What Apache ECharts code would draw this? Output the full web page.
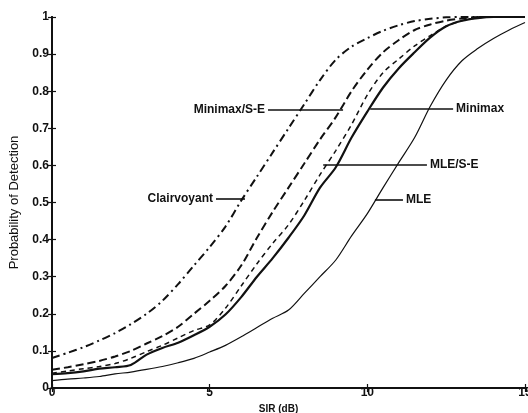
<!DOCTYPE html>
<html style="height: 100%">
<head>
  <meta charset="utf-8">
  <title>Probability of Detection vs SIR</title>
  <script src="https://cdn.jsdelivr.net/npm/echarts@6.0.0/dist/echarts.min.js"></script>
</head>
<body style="margin:0;height:100%;background:#fff">
  <div id="main" style="width:528px;height:413px"></div>
  <script>
    // SIR (dB) -> probability of detection
    var clairvoyant = [
      [0, 0.081], [0.5, 0.095], [1, 0.11], [1.5, 0.128], [2, 0.148], [2.5, 0.172],
      [3, 0.2], [3.5, 0.235], [4, 0.28], [4.5, 0.33], [5, 0.38], [5.5, 0.435],
      [6, 0.505], [6.5, 0.57], [7, 0.635], [7.5, 0.7], [8, 0.765], [8.5, 0.83],
      [9, 0.885], [9.5, 0.92], [10, 0.943], [10.5, 0.963], [11, 0.978], [11.5, 0.989],
      [12, 0.995], [12.5, 0.999], [13, 1], [15, 1]
    ];
    var minimaxSE = [
      [0, 0.049], [0.5, 0.056], [1, 0.064], [1.5, 0.073], [2, 0.085], [2.5, 0.1],
      [3, 0.12], [3.5, 0.14], [4, 0.165], [4.5, 0.2], [5, 0.235], [5.5, 0.275],
      [6, 0.33], [6.5, 0.405], [7, 0.475], [7.5, 0.54], [8, 0.605], [8.5, 0.67],
      [9, 0.73], [9.5, 0.8], [10, 0.858], [10.5, 0.905], [11, 0.938], [11.5, 0.965],
      [12, 0.98], [12.5, 0.99], [13, 0.996], [13.5, 1], [15, 1]
    ];
    var mleSE = [
      [0, 0.04], [0.5, 0.046], [1, 0.052], [1.5, 0.058], [2, 0.066], [2.5, 0.08],
      [3, 0.098], [3.5, 0.115], [4, 0.135], [4.5, 0.155], [5, 0.17], [5.5, 0.215],
      [6, 0.275], [6.5, 0.335], [7, 0.39], [7.5, 0.44], [8, 0.505], [8.5, 0.575],
      [9, 0.64], [9.5, 0.71], [10, 0.79], [10.5, 0.85], [11, 0.887], [11.5, 0.922],
      [12, 0.95], [12.5, 0.975], [13, 0.99], [13.5, 0.998], [14, 1], [15, 1]
    ];
    var minimax = [
      [0, 0.037], [0.5, 0.04], [1, 0.045], [1.5, 0.052], [2, 0.056], [2.5, 0.062],
      [3, 0.09], [3.5, 0.108], [4, 0.122], [4.5, 0.142], [5, 0.165], [5.5, 0.198],
      [6, 0.245], [6.5, 0.3], [7, 0.35], [7.5, 0.405], [8, 0.465], [8.5, 0.54],
      [9, 0.595], [9.5, 0.675], [10, 0.745], [10.5, 0.81], [11, 0.862], [11.5, 0.905],
      [12, 0.945], [12.5, 0.975], [13, 0.99], [13.5, 0.997], [14, 1], [15, 1]
    ];
    var mle = [
      [0, 0.02], [0.5, 0.024], [1, 0.027], [1.5, 0.031], [2, 0.038], [2.5, 0.043],
      [3, 0.05], [3.5, 0.058], [4, 0.068], [4.5, 0.08], [5, 0.097], [5.5, 0.115],
      [6, 0.138], [6.5, 0.163], [7, 0.188], [7.5, 0.21], [8, 0.255], [8.5, 0.3],
      [9, 0.345], [9.5, 0.41], [10, 0.47], [10.5, 0.54], [11, 0.608], [11.5, 0.675],
      [12, 0.76], [12.5, 0.83], [13, 0.882], [13.5, 0.915], [14, 0.942], [14.5, 0.965],
      [15, 0.985]
    ];

    // curve labels with leader lines (data coords: y, x from, x to, text side)
    var labels = [
      { text: 'Clairvoyant', y: 0.509, x1: 5.2, x2: 6.12, side: 'start' },
      { text: 'Minimax/S-E', y: 0.749, x1: 6.85, x2: 9.23, side: 'start' },
      { text: 'Minimax', y: 0.752, x1: 10.09, x2: 12.72, side: 'end' },
      { text: 'MLE/S-E', y: 0.601, x1: 8.6, x2: 11.89, side: 'end' },
      { text: 'MLE', y: 0.507, x1: 10.24, x2: 11.13, side: 'end' }
    ];

    var ink = '#111';
    var font = 'Liberation Sans, Arial, sans-serif';

    function leader(l) {
      return {
        silent: true,
        animation: false,
        symbol: 'none',
        lineStyle: { color: ink, width: 1.6, type: 'solid' },
        label: {
          show: true,
          position: l.side,
          distance: 3,
          formatter: l.text,
          color: ink,
          fontFamily: font,
          fontWeight: 'bold',
          fontSize: 12
        },
        data: [[{ coord: [l.x1, l.y] }, { coord: [l.x2, l.y] }]]
      };
    }

    function curve(name, data, width, dash, idx) {
      return {
        name: name,
        type: 'line',
        data: data,
        showSymbol: false,
        smooth: 0.3,
        animation: false,
        lineStyle: { color: ink, width: width, type: dash },
        markLine: leader(labels[idx])
      };
    }

    var frameAxis = {
      axisLine: { lineStyle: { color: ink, width: 2 } },
      axisTick: { inside: true, length: 4, lineStyle: { color: ink, width: 1.2 } },
      axisLabel: { show: false },
      splitLine: { show: false }
    };

    var chart = echarts.init(document.getElementById('main'));
    chart.setOption({
      grid: { left: 52, right: 3, top: 17, bottom: 25, outerBoundsMode: 'none' },
      xAxis: [
        Object.assign({
          type: 'value', min: 0, max: 15, interval: 5, position: 'bottom',
          name: 'SIR (dB)', nameLocation: 'middle', nameGap: 11,
          nameTextStyle: { color: ink, fontFamily: font, fontWeight: 'bold', fontSize: 10, padding: [0, 20, 0, 0] }
        }, frameAxis, {
          axisLabel: { show: true, margin: -1, color: ink, fontFamily: font, fontWeight: 'bold', fontSize: 12, showMaxLabel: true }
        }),
        Object.assign({ type: 'value', min: 0, max: 15, interval: 5, position: 'top' }, frameAxis)
      ],
      yAxis: [
        Object.assign({
          type: 'value', min: 0, max: 1, interval: 0.1, position: 'left',
          name: 'Probability of Detection', nameLocation: 'middle', nameGap: 25,
          nameTextStyle: { color: ink, fontFamily: font, fontSize: 13 }
        }, frameAxis, {
          axisLabel: { show: true, margin: 3, color: ink, fontFamily: font, fontWeight: 'bold', fontSize: 12 }
        }),
        Object.assign({ type: 'value', min: 0, max: 1, interval: 0.1, position: 'right' }, frameAxis)
      ],
      series: [
        curve('Clairvoyant', clairvoyant, 2, [8, 4, 2, 4], 0),
        curve('Minimax/S-E', minimaxSE, 2, [8, 4], 1),
        curve('Minimax', minimax, 2.2, 'solid', 2),
        curve('MLE/S-E', mleSE, 1.5, [5, 4], 3),
        curve('MLE', mle, 1.2, 'solid', 4)
      ]
    });
  </script>
</body>
</html>
